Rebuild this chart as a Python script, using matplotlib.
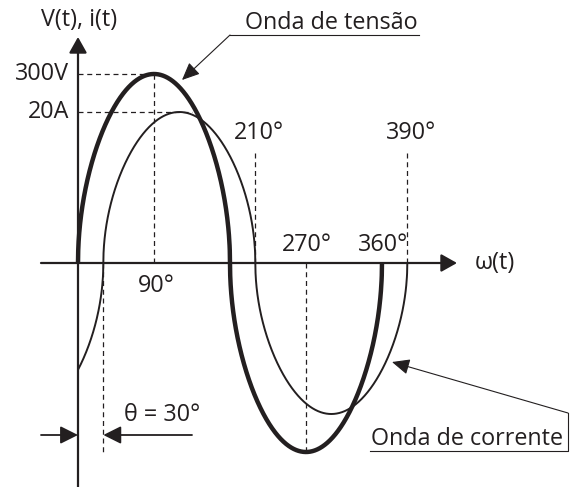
import numpy as np
import matplotlib.pyplot as plt

# --- Chart values ---
V_PEAK = 300          # voltage amplitude (V)
I_PEAK = 20           # current amplitude (A)
THETA = 30            # current lag (degrees)
V_END = 360           # voltage drawn over one period
I_END = 390           # current drawn until 360 + theta
SHAPE = 0.5           # the drawing uses rounded "sine" lobes

V_LABEL = "300V"
I_LABEL = "20A"
BELOW_TICKS = [90]                 # labelled under the axis
ABOVE_TICKS = [270, 360]           # labelled over the axis
HIGH_TICKS = [210, 390]            # labelled high, with a dashed guide
GUIDE_TOP_V = 179                  # top of the 210/390 guides (V units)
I_GUIDE_END = 135                  # 20A dashed guide end (deg)

# --- Layout (pixels of the 574x487 picture) ---
W, H = 574, 487
X0, SX = 78, 0.8444     # px of 0 deg, px per degree
Y0 = 263                # px of the zero line
SV = 189 / V_PEAK       # px per volt
SI = 151 / I_PEAK       # px per amp
INK = "#231f20"
FONT = "Open Sans"
FS = 16.8

plt.rcParams['font.family'] = [FONT, 'DejaVu Sans']


def shaped(s):
    return np.sign(s) * np.abs(s) ** SHAPE


fig = plt.figure(figsize=(W / 100, H / 100), dpi=100)
ax = fig.add_axes([0, 0, 1, 1])
ax.set_xlim((0 - X0) / SX, (W - X0) / SX)
ax.set_ylim((Y0 - H) / SV, Y0 / SV)
ax.axis('off')
ai = ax.twinx()
ai.set_ylim((Y0 - H) / SI, Y0 / SI)
ai.axis('off')

# overlay in pixel coordinates for callouts
ann = fig.add_axes([0, 0, 1, 1])
ann.set_xlim(0, W)
ann.set_ylim(H, 0)
ann.axis('off')
ann.patch.set_alpha(0)

# --- Waves ---
tv = np.linspace(0, V_END, 1441)
ax.plot(tv, V_PEAK * shaped(np.sin(np.radians(tv))), color=INK, lw=3.2,
        solid_capstyle='butt', zorder=4)
ti = np.linspace(0, I_END, 1561)
ai.plot(ti, I_PEAK * shaped(np.sin(np.radians(ti - THETA))), color=INK,
        lw=1.4, solid_capstyle='butt', zorder=4)

# --- Dashed guides ---
dash = dict(color=INK, lw=0.9, ls=(0, (4, 3)), zorder=2)
ax.plot([0, 90], [V_PEAK, V_PEAK], **dash)
ax.plot([90, 90], [0, V_PEAK], **dash)
ai.plot([0, I_GUIDE_END], [I_PEAK, I_PEAK], **dash)
for a in HIGH_TICKS:
    ax.plot([a, a], [0, GUIDE_TOP_V], **dash)
ax.plot([270, 270], [0, -V_PEAK], **dash)
ax.plot([THETA, THETA], [0, -V_PEAK], **dash)

# --- Axes with arrows ---
ahead = dict(arrowstyle='-|>,head_length=0.8,head_width=0.45', color=INK,
             lw=1.6, mutation_scale=12, shrinkA=0, shrinkB=0)
ax.annotate('', xy=(0, (Y0 - 37) / SV), xytext=(0, (Y0 - H) / SV),
            arrowprops=ahead, zorder=3)
ax.annotate('', xy=((457 - X0) / SX, 0), xytext=((41 - X0) / SX, 0),
            arrowprops=ahead, zorder=3)

# --- Labels ---
ann.text(79, 20, "V(t), i(t)", ha='center', va='center', fontsize=FS, color=INK)
ax.annotate(V_LABEL, (0, V_PEAK), xytext=(-9, 0), textcoords='offset pixels',
            ha='right', va='center', fontsize=FS, color=INK)
ai.annotate(I_LABEL, (0, I_PEAK), xytext=(-9, 0), textcoords='offset pixels',
            ha='right', va='center', fontsize=FS, color=INK)
for a in BELOW_TICKS:
    ax.annotate(f"{a}°", (a, 0), xytext=(2, -23), textcoords='offset pixels',
                ha='center', va='center', fontsize=FS, color=INK)
for a in ABOVE_TICKS:
    ax.annotate(f"{a}°", (a, 0), xytext=(1, 18), textcoords='offset pixels',
                ha='center', va='center', fontsize=FS, color=INK)
for a in HIGH_TICKS:
    ax.annotate(f"{a}°", (a, GUIDE_TOP_V), xytext=(4, 17),
                textcoords='offset pixels', ha='center', va='center',
                fontsize=FS, color=INK)
ax.annotate("ω(t)", ((457 - X0) / SX, 0), xytext=(18, 0),
            textcoords='offset pixels', ha='left', va='center',
            fontsize=FS, color=INK)

# theta callout
ty = (Y0 - 435) / SV
small = dict(arrowstyle='-|>,head_length=0.9,head_width=0.45', color=INK,
             lw=1.3, mutation_scale=12, shrinkA=0, shrinkB=0)
ax.annotate('', xy=(0, ty), xytext=((41 - X0) / SX, ty), arrowprops=small)
ax.annotate('', xy=(THETA, ty), xytext=((192 - X0) / SX, ty), arrowprops=small)
ann.text(162, 415, f"θ = {THETA}°", ha='center', va='center', fontsize=FS,
         color=INK)

# wave callouts
thin = dict(arrowstyle='-|>,head_length=0.9,head_width=0.4', color=INK,
            lw=0.8, mutation_scale=12, shrinkA=0, shrinkB=0)
ann.annotate('', xy=(182, 80), xytext=(230, 35), arrowprops=thin)
ann.plot([230, 419], [35, 35], color=INK, lw=0.8)
ann.text(245, 29, "Onda de tensão", ha='left', va='baseline', fontsize=FS,
         color=INK)

ann.annotate('', xy=(392, 362), xytext=(568, 413), arrowprops=thin)
ann.plot([568, 568, 370], [413, 451, 451], color=INK, lw=0.8)
ann.text(371, 445, "Onda de corrente", ha='left', va='baseline', fontsize=FS,
         color=INK)

fig.savefig("out.png", dpi=100, facecolor='white')
